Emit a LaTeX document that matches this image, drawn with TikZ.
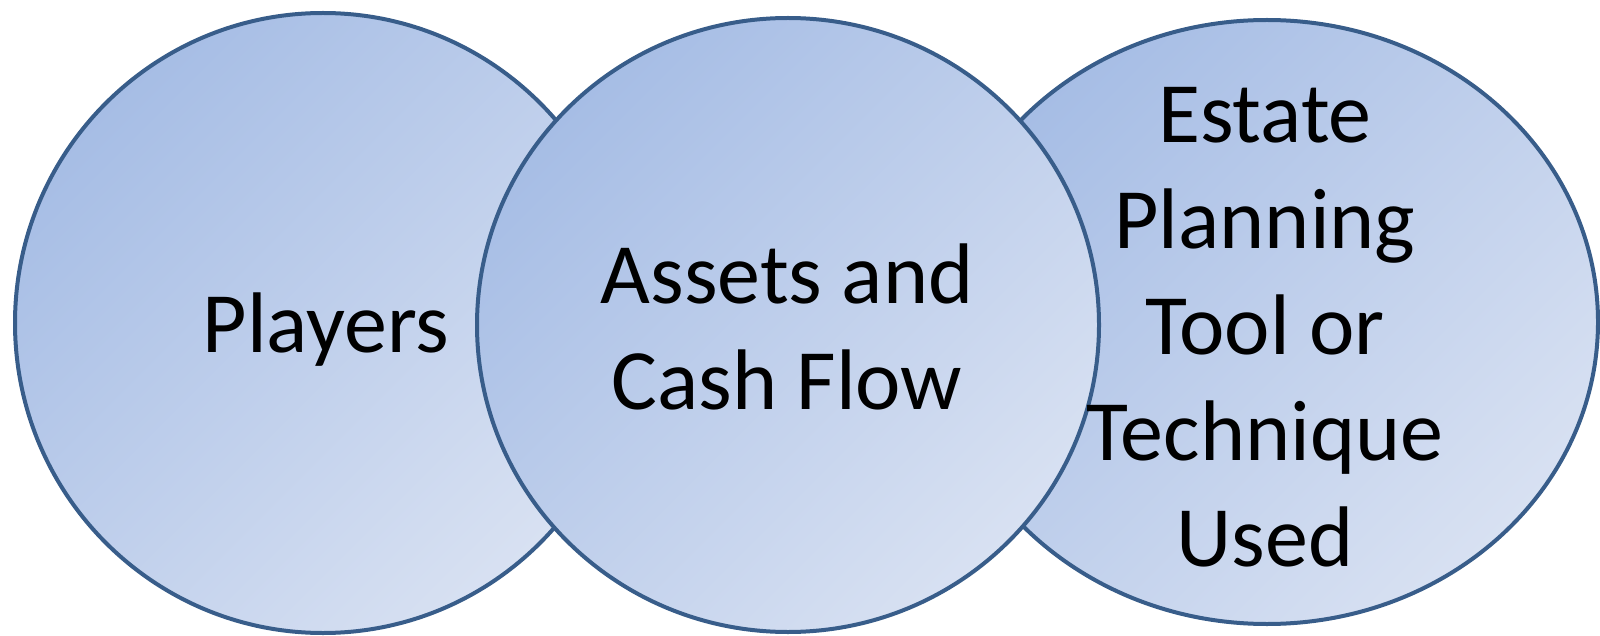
\documentclass[tikz,border=0pt]{standalone}
\usepackage{fontspec}
\setmainfont{Carlito}
\usetikzlibrary{shapes.geometric}
\definecolor{rimblue}{RGB}{56,93,138}
\definecolor{filldark}{RGB}{166,189,229}
\definecolor{filllight}{RGB}{216,225,242}
\tikzset{
  bubble/.style={ellipse, draw=rimblue, line width=2pt, inner sep=0pt,
    top color=filldark, bottom color=filllight, shading angle=45},
  label/.style={align=center, text=black, inner sep=0pt,
    font=\fontsize{43}{53}\selectfont}
}
\begin{document}
\begin{tikzpicture}[x=0.5pt,y=-0.5pt]
\useasboundingbox (0,0) rectangle (1600,636);
% outer circles first, middle circle on top
\node[bubble, minimum width=308pt, minimum height=310pt] (players) at (323,323) {};
\node[bubble, minimum width=331pt, minimum height=302pt] (estate) at (1267,322) {};
\node[bubble, minimum width=311pt, minimum height=307pt] (assets) at (788,325) {};
% labels
\node[label, anchor=base] (tplayers) at (326,352) {Players};
\node[label] (tassets) at (787,327) {Assets and\\Cash Flow};
\node[label] (testate) at (1265,327) {Estate\\Planning\\Tool or\\Technique\\Used};
\end{tikzpicture}
\end{document}
